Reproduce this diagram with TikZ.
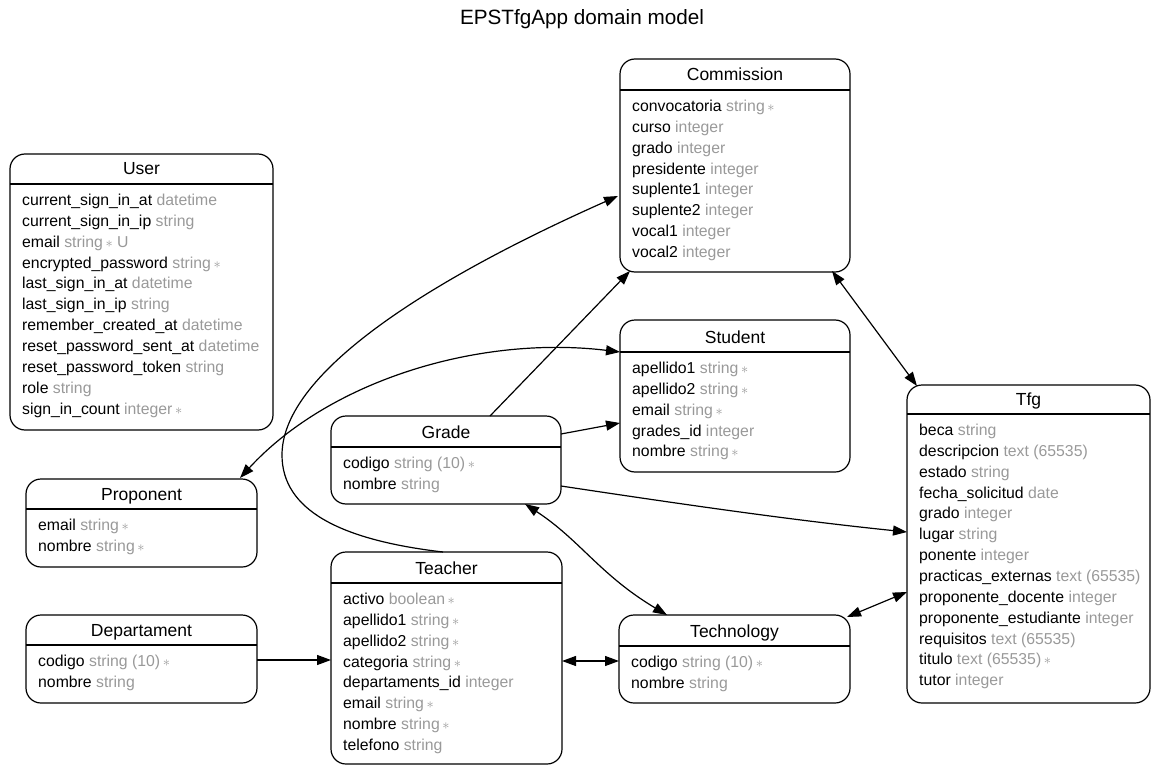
\documentclass[tikz,border=0pt]{standalone}
\usepackage{fontspec}
\setmainfont{Liberation Sans}
\usetikzlibrary{arrows.meta,calc}
\definecolor{typegrey}{HTML}{999999}
\newcommand\ty[1]{\textcolor{typegrey}{#1}}
\newcommand\req{\textcolor{typegrey}{\,{\fontsize{14}{14}\selectfont$\ast$}}}
\tikzset{
 box/.style={draw, line width=1.2pt, rounded corners=15pt, inner sep=0pt, outer sep=0pt, anchor=north west},
 hdr/.style={font=\fontsize{17.5}{20}\selectfont, anchor=base, inner sep=0pt},
 attr/.style={font=\fontsize{15.8}{19}\selectfont, anchor=base west, inner sep=0pt},
 conn/.style={line width=1.2pt},
 arr/.style={conn, -{Triangle[length=14pt,width=10pt]}},
 barr/.style={conn, {Triangle[length=14pt,width=10pt]}-{Triangle[length=14pt,width=10pt]}},
}
\newcommand\entity[8]{%
  \node[box, minimum width=#4pt, minimum height=#5pt] (#1) at (#2,#3) {};
  \draw[line width=1.2pt] ($(#1.north west)+(0,#6)$) -- ($(#1.north east)+(0,#6)$);
  \node[hdr] (#1-title) at ($(#1.north)+(0,#6-9)$) {#7};
  \foreach \r [count=\i from 0] in {#8} \node[attr] (#1-r\i) at ($(#1.north west)+(12,#6+21.5+\i*20.85)$) {\r};
}
\begin{document}
\begin{tikzpicture}[x=1pt,y=-1pt]
\useasboundingbox (0,0) rectangle (1151,765);
\node[font=\fontsize{20.7}{24}\selectfont, anchor=base, inner sep=0pt] (title) at (582,25) {EPSTfgApp domain model};

\entity{user}{10}{154}{263}{276}{30}{User}{%
 {current\_sign\_in\_at \ty{datetime}},
 {current\_sign\_in\_ip \ty{string}},
 {email \ty{string}\req\ \ty{U}},
 {encrypted\_password \ty{string}\req},
 {last\_sign\_in\_at \ty{datetime}},
 {last\_sign\_in\_ip \ty{string}},
 {remember\_created\_at \ty{datetime}},
 {reset\_password\_sent\_at \ty{datetime}},
 {reset\_password\_token \ty{string}},
 {role \ty{string}},
 {sign\_in\_count \ty{integer}\req}}

\entity{commission}{620}{59}{230}{213}{31}{Commission}{%
 {convocatoria \ty{string}\req},
 {curso \ty{integer}},
 {grado \ty{integer}},
 {presidente \ty{integer}},
 {suplente1 \ty{integer}},
 {suplente2 \ty{integer}},
 {vocal1 \ty{integer}},
 {vocal2 \ty{integer}}}

\entity{student}{620}{320}{230}{152}{32}{Student}{%
 {apellido1 \ty{string}\req},
 {apellido2 \ty{string}\req},
 {email \ty{string}\req},
 {grades\_id \ty{integer}},
 {nombre \ty{string}\req}}

\entity{grade}{331}{416}{230}{88}{31}{Grade}{%
 {codigo \ty{string (10)}\req},
 {nombre \ty{string}}}

\entity{tfg}{907}{385}{243}{318}{29}{Tfg}{%
 {beca \ty{string}},
 {descripcion \ty{text (65535)}},
 {estado \ty{string}},
 {fecha\_solicitud \ty{date}},
 {grado \ty{integer}},
 {lugar \ty{string}},
 {ponente \ty{integer}},
 {practicas\_externas \ty{text (65535)}},
 {proponente\_docente \ty{integer}},
 {proponente\_estudiante \ty{integer}},
 {requisitos \ty{text (65535)}},
 {titulo \ty{text (65535)}\req},
 {tutor \ty{integer}}}

\entity{proponent}{26}{479}{231}{88}{30}{Proponent}{%
 {email \ty{string}\req},
 {nombre \ty{string}\req}}

\entity{departament}{26}{615}{231}{88}{30}{Departament}{%
 {codigo \ty{string (10)}\req},
 {nombre \ty{string}}}

\entity{teacher}{331}{552}{231}{212}{31}{Teacher}{%
 {activo \ty{boolean}\req},
 {apellido1 \ty{string}\req},
 {apellido2 \ty{string}\req},
 {categoria \ty{string}\req},
 {departaments\_id \ty{integer}},
 {email \ty{string}\req},
 {nombre \ty{string}\req},
 {telefono \ty{string}}}

\entity{technology}{619}{615}{231}{88}{31}{Technology}{%
 {codigo \ty{string (10)}\req},
 {nombre \ty{string}}}

% connectors
\coordinate (bend) at (282,455);
\draw[arr] ($(teacher.north west)+(112,0)$) .. controls (340,540) and (282,510) .. (bend)
  .. controls (282,370) and (440,275) .. ($(commission.north west)+(-2,137)$);
\draw[arr] ($(grade.north west)+(159,0)$) -- ($(commission.south west)+(10,-1)$);
\draw[barr] ($(proponent.north east)+(-17,-1)$) .. controls (330,380) and (480,335) .. ($(student.north west)+(0,32)$);
\draw[arr] ($(grade.north east)+(0,18)$) -- ($(student.north west)+(0,103)$);
\draw[arr] ($(grade.north east)+(0,70)$) .. controls (700,507) and (800,521) .. ($(tfg.north west)+(0,147)$);
\draw[barr] ($(commission.south east)+(-18,-1)$) -- ($(tfg.north west)+(10,1)$);
\draw[barr] ($(grade.south west)+(194,0)$) .. controls (580,540) and (600,575) .. ($(technology.north west)+(48,0)$);
\draw[barr] ($(tfg.north west)+(0,207)$) -- ($(technology.north east)+(-3,2)$);
\draw[barr] ($(teacher.north east)+(0,109)$) -- ($(technology.north west)+(0,46)$);
\draw[arr] ($(departament.north east)+(0,45)$) -- ($(teacher.north west)+(0,108)$);
\end{tikzpicture}
\end{document}
